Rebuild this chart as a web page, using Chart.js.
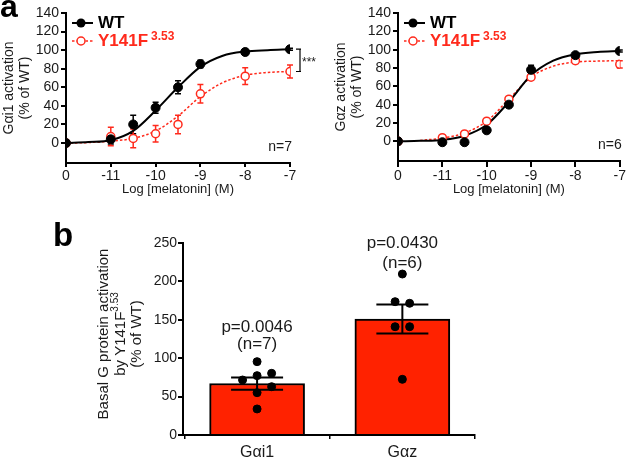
<!DOCTYPE html>
<html>
<head>
  <title>Y141F basal and melatonin-induced G protein activation</title>
  <script src="https://cdn.jsdelivr.net/npm/chart.js"></script>
  <style>
    body { margin: 0; background: #fff; }
    #wrap { position: relative; width: 627px; height: 458px; }
    .panel { position: absolute; }
  </style>
</head>
<body>
<div id="wrap">
  <div class="panel" style="left:0;top:0"><canvas id="gi1Chart" width="320" height="200"></canvas></div>
  <div class="panel" style="left:320px;top:0"><canvas id="gzChart" width="307" height="200"></canvas></div>
  <div class="panel" style="left:0;top:210px"><canvas id="basalChart" width="627" height="248"></canvas></div>
</div>

<script>
  // ---- data ----
  // -12 on the x axis stands for the "0" (no melatonin) point
  const doseX = [-12, -11, -10.5, -10, -9.5, -9, -8, -7];
  const xTickValues = [-12, -11, -10, -9, -8, -7];
  const xTickLabels = ['0', '-11', '-10', '-9', '-8', '-7'];
  const yTicksDose = [0, 20, 40, 60, 80, 100, 120, 140];

  const gi1WT = [0, 4, 20, 38, 60, 85, 98, 101];
  const gi1WTErr = [0, 5, 10, 6, 7, 4, 3, 1];
  const gi1Mut = [0, 7, 5, 10, 20, 53, 72, 77];
  const gi1MutErr = [0, 10, 10, 9, 10, 10, 9, 7];

  const gzWT = [0, -1, -1, 12, 40, 78, 94, 98.5];
  const gzWTErr = [0, 1, 1, 2, 3, 5, 2, 1];
  const gzMut = [0, 4, 8, 22, 46, 70, 88, 84];
  const gzMutErr = [0, 1, 1, 2, 2, 2, 3, 4];

  // fitted curves, read at these x positions
  const curveX = [-12, -11.5, -11, -10.5, -10, -9.5, -9, -8.5, -8, -7.5, -7];
  const gi1WTFit = [0, 1, 3, 13, 35, 60, 82, 94, 98.5, 100, 101];
  const gi1MutFit = [0, 0.5, 2, 5, 13, 29, 50, 65, 73, 76, 77];
  const gzWTFit = [0, 0.5, 1.5, 6, 18, 43, 72, 88, 95, 97.5, 98.5];
  const gzMutFit = [null, 1, 3.5, 9, 22, 46, 70, 82, 86.5, 87.5, 88];

  const seriesNames = ['WT', 'Y141F'];
  const mutSup = '3.53';

  // panel b
  const groups = ['Gαi1', 'Gαz'];
  const basalMean = [67, 151];
  const basalSem = [8, 19];
  const gai1Points = [95.5, 77.3, 71.6, 80.3, 62.9, 55.1, 33.9];
  const gai1Jitter = [0, 0, -0.1, 0.1, 0.1, 0, 0];
  const gazPoints = [209.6, 173.6, 171.5, 141, 141, 72.5];
  const gazJitter = [0, -0.05, 0.05, -0.05, 0.05, 0];
  const pValues = ['p=0.0046', 'p=0.0430'];
  const nLabels = ['(n=7)', '(n=6)'];
  const yTicksBasal = [0, 50, 100, 150, 200, 250];

  const RED = '#ff2a1c';
  const BAR = '#ff2200';
  const FONT = "'Liberation Sans', Arial, sans-serif";
  const TXT = '#1a1a1a';

  Chart.defaults.font.family = FONT;
  Chart.defaults.color = TXT;
  Chart.defaults.animation = false;
  Chart.defaults.events = [];

  // error bars drawn under the markers
  const errorBars = {
    id: 'errorBars',
    beforeDatasetsDraw(chart) {
      const { ctx, scales: { x, y } } = chart;
      chart.data.datasets.forEach(ds => {
        if (!ds.errors) return;
        ctx.save();
        ctx.strokeStyle = ds.errColor;
        ctx.lineWidth = 1.5;
        ds.data.forEach((p, i) => {
          const e = ds.errors[i];
          if (!e) return;
          const px = x.getPixelForValue(p.x);
          const top = y.getPixelForValue(p.y + e);
          const bot = y.getPixelForValue(p.y - e);
          ctx.beginPath();
          ctx.moveTo(px, top); ctx.lineTo(px, bot);
          ctx.moveTo(px - 3, top); ctx.lineTo(px + 3, top);
          ctx.moveTo(px - 3, bot); ctx.lineTo(px + 3, bot);
          ctx.stroke();
        });
        ctx.restore();
      });
    }
  };

  // legend, n label, bracket, panel letter
  const doseExtras = {
    id: 'doseExtras',
    afterDraw(chart, args, o) {
      const { ctx, chartArea: a, scales: { x, y } } = chart;
      const x0 = a.left + 6, x1 = a.left + 27, mx = a.left + 15, tx = a.left + 32;
      const y1 = a.top + 10, y2 = a.top + 28;
      ctx.save();
      ctx.strokeStyle = '#000'; ctx.lineWidth = 2;
      ctx.beginPath(); ctx.moveTo(x0, y1); ctx.lineTo(x1, y1); ctx.stroke();
      ctx.fillStyle = '#000';
      ctx.beginPath(); ctx.arc(mx, y1, 4.5, 0, 2 * Math.PI); ctx.fill();

      ctx.strokeStyle = RED; ctx.lineWidth = 1.5; ctx.setLineDash([2.5, 2]);
      ctx.beginPath(); ctx.moveTo(x0, y2); ctx.lineTo(x1, y2); ctx.stroke();
      ctx.setLineDash([]);
      ctx.fillStyle = '#fff';
      ctx.beginPath(); ctx.arc(mx, y2, 4, 0, 2 * Math.PI); ctx.fill(); ctx.stroke();

      ctx.textAlign = 'left'; ctx.textBaseline = 'middle';
      ctx.font = 'bold 17px ' + FONT;
      ctx.fillStyle = '#000'; ctx.fillText(seriesNames[0], tx, y1);
      ctx.fillStyle = RED; ctx.fillText(seriesNames[1], tx, y2);
      const w = ctx.measureText(seriesNames[1]).width;
      ctx.font = 'bold 12px ' + FONT;
      ctx.fillText(mutSup, tx + w + 3, y2 - 4);

      ctx.fillStyle = TXT;
      ctx.font = '14px ' + FONT;
      ctx.textAlign = 'right';
      ctx.fillText(o.nText, a.right + 2, a.bottom - 16);

      if (o.bracket) {
        const bx = a.right + 10;
        const top = y.getPixelForValue(o.bracket[0]);
        const bot = y.getPixelForValue(o.bracket[1]);
        ctx.strokeStyle = '#000'; ctx.lineWidth = 1.2;
        ctx.beginPath();
        ctx.moveTo(bx - 4, top); ctx.lineTo(bx + 1, top);
        ctx.moveTo(bx, top); ctx.lineTo(bx, bot);
        ctx.moveTo(bx - 4, bot); ctx.lineTo(bx + 1, bot);
        ctx.stroke();
        ctx.font = '12px ' + FONT; ctx.textAlign = 'left';
        ctx.fillText('***', bx + 2, (top + bot) / 2 + 2);
      }
      if (o.letter) {
        ctx.fillStyle = '#000';
        ctx.font = 'bold 32px ' + FONT; ctx.textAlign = 'left'; ctx.textBaseline = 'alphabetic';
        ctx.fillText(o.letter, 0, 17);
      }
      ctx.restore();
    }
  };

  function doseChart(id, cfg) {
    const pts = ys => doseX.map((x, i) => ({ x, y: ys[i] }));
    const fit = ys => curveX.map((x, i) => ({ x, y: ys[i] }));
    return new Chart(document.getElementById(id), {
      type: 'line',
      data: {
        datasets: [
          { data: pts(cfg.wt), showLine: false, pointRadius: 4.5, pointBackgroundColor: '#000',
            pointBorderColor: '#000', pointBorderWidth: 1, order: 0, errors: cfg.wtErr, errColor: '#000' },
          { data: pts(cfg.mut), showLine: false, pointRadius: 4, pointBackgroundColor: '#fff',
            pointBorderColor: RED, pointBorderWidth: 1.5, order: 1, errors: cfg.mutErr, errColor: RED },
          { data: fit(cfg.wtFit), borderColor: '#000', borderWidth: 2, pointRadius: 0,
            cubicInterpolationMode: 'monotone', order: 2 },
          { data: fit(cfg.mutFit), borderColor: RED, borderWidth: 1.5, borderDash: [2.5, 2], pointRadius: 0,
            cubicInterpolationMode: 'monotone', order: 3 }
        ]
      },
      options: {
        responsive: false,
        layout: { padding: cfg.padding },
        plugins: {
          legend: { display: false },
          tooltip: { enabled: false },
          doseExtras: { nText: cfg.nText, bracket: cfg.bracket, letter: cfg.letter }
        },
        scales: {
          x: {
            type: 'linear', min: -12, max: -7,
            afterBuildTicks: s => { s.ticks = xTickValues.map(v => ({ value: v })); },
            afterFit: s => { s.height = cfg.xHeight; },
            ticks: { callback: (v, i) => xTickLabels[i], font: { size: 14 }, padding: 1,
                     maxRotation: 0, autoSkip: false },
            grid: { display: true, drawOnChartArea: false, drawTicks: true, tickLength: cfg.xTick,
                    color: '#000', lineWidth: 2 },
            border: { display: true, color: '#000', width: 2 },
            title: { display: true, text: 'Log [melatonin] (M)', font: { size: 13 },
                     padding: { top: 0, bottom: 3 } }
          },
          y: {
            min: -21.5, max: 140,
            afterBuildTicks: s => { s.ticks = yTicksDose.map(v => ({ value: v })); },
            afterFit: s => { s.width = cfg.yWidth; },
            ticks: { font: { size: 14 }, padding: 2 },
            grid: { display: true, drawOnChartArea: false, drawTicks: true, tickLength: 5,
                    color: '#000', lineWidth: 2 },
            border: { display: true, color: '#000', width: 2 },
            title: { display: true, text: cfg.yTitle, font: { size: 14, lineHeight: 1.15 },
                     padding: { top: cfg.yTitlePad, bottom: 0 } }
          }
        }
      },
      plugins: [errorBars, doseExtras]
    });
  }

  doseChart('gi1Chart', {
    wt: gi1WT, wtErr: gi1WTErr, mut: gi1Mut, mutErr: gi1MutErr,
    wtFit: gi1WTFit, mutFit: gi1MutFit,
    yTitle: ['Gαi1 activation', '(% of WT)'], nText: 'n=7',
    bracket: [gi1WT[7], gi1Mut[7]], letter: 'a',
    padding: { left: 0, right: 30, top: 13, bottom: 0 },
    yWidth: 66, xHeight: 37, xTick: 4, yTitlePad: 1
  });

  doseChart('gzChart', {
    wt: gzWT, wtErr: gzWTErr, mut: gzMut, mutErr: gzMutErr,
    wtFit: gzWTFit, mutFit: gzMutFit,
    yTitle: ['Gαz activation', '(% of WT)'], nText: 'n=6',
    padding: { left: 0, right: 5, top: 13, bottom: 0 },
    yWidth: 78, xHeight: 39, xTick: 6, yTitlePad: 13
  });

  // ---- panel b ----
  const basalExtras = {
    id: 'basalExtras',
    afterDatasetDraw(chart, args) {
      if (args.index !== 0) return;
      const { ctx, scales: { x, y } } = chart;
      ctx.save();
      ctx.strokeStyle = '#000'; ctx.lineWidth = 2;
      basalMean.forEach((m, i) => {
        const px = x.getPixelForValue(i + 1);
        const top = y.getPixelForValue(m + basalSem[i]);
        const bot = y.getPixelForValue(m - basalSem[i]);
        ctx.beginPath();
        ctx.moveTo(px, top); ctx.lineTo(px, bot);
        ctx.moveTo(px - 26, top); ctx.lineTo(px + 26, top);
        ctx.moveTo(px - 26, bot); ctx.lineTo(px + 26, bot);
        ctx.stroke();
      });
      ctx.restore();
    },
    afterDraw(chart, args, o) {
      const { ctx, chartArea: a, scales: { x, y } } = chart;
      ctx.save();
      ctx.fillStyle = TXT;
      ctx.font = '17px ' + FONT;
      ctx.textAlign = 'center'; ctx.textBaseline = 'middle';
      groups.forEach((g, i) => {
        const px = x.getPixelForValue(i + 1);
        ctx.fillText(pValues[i], px, y.getPixelForValue(o.textAt[i][0]));
        ctx.fillText(nLabels[i], px, y.getPixelForValue(o.textAt[i][1]));
      });

      // rotated y title with superscript
      const cy = (a.top + a.bottom) / 2 - 5;
      const lines = [['Basal G protein activation', ''], ['by Y141F', mutSup], ['(% of WT)', '']];
      const xs = [104, 121, 137];
      lines.forEach(([main, sup], i) => {
        ctx.save();
        ctx.translate(xs[i], cy);
        ctx.rotate(-Math.PI / 2);
        ctx.font = '15px ' + FONT;
        const w1 = ctx.measureText(main).width;
        ctx.font = '10px ' + FONT;
        const w2 = sup ? ctx.measureText(sup).width : 0;
        const start = -(w1 + w2) / 2;
        ctx.textAlign = 'left';
        ctx.font = '15px ' + FONT;
        ctx.fillText(main, start, 0);
        if (sup) { ctx.font = '10px ' + FONT; ctx.fillText(sup, start + w1, -6); }
        ctx.restore();
      });

      ctx.fillStyle = '#000';
      ctx.font = 'bold 33px ' + FONT; ctx.textAlign = 'left'; ctx.textBaseline = 'alphabetic';
      ctx.fillText('b', 53, 36);
      ctx.restore();
    }
  };

  const scatterPts = [
    ...gai1Points.map((v, i) => ({ x: 1 + gai1Jitter[i], y: v })),
    ...gazPoints.map((v, i) => ({ x: 2 + gazJitter[i], y: v }))
  ];

  new Chart(document.getElementById('basalChart'), {
    type: 'bar',
    data: {
      datasets: [
        { type: 'bar', data: basalMean.map((m, i) => ({ x: i + 1, y: m })), backgroundColor: BAR,
          borderColor: '#000', borderWidth: 2, barThickness: 95, order: 2 },
        { type: 'scatter', data: scatterPts, pointRadius: 4, backgroundColor: '#000',
          borderColor: '#000', order: 1 }
      ]
    },
    options: {
      responsive: false,
      layout: { padding: { left: 0, right: 152, top: 33, bottom: 0 } },
      plugins: {
        legend: { display: false },
        tooltip: { enabled: false },
        basalExtras: { textAt: [[140, 118], [250, 224]] }
      },
      scales: {
        x: {
          type: 'linear', min: 0.49, max: 2.5, offset: false,
          afterBuildTicks: s => { s.ticks = groups.map((g, i) => ({ value: i + 1 })); },
          afterFit: s => { s.height = 23; },
          ticks: { callback: (v, i) => groups[i], font: { size: 16 }, padding: 4, maxRotation: 0, autoSkip: false },
          grid: { display: true, drawOnChartArea: false, drawTicks: true, tickLength: 4,
                  color: '#000', lineWidth: 1.5 },
          border: { display: true, color: '#000', width: 2 }
        },
        y: {
          min: 0, max: 250,
          afterBuildTicks: s => { s.ticks = yTicksBasal.map(v => ({ value: v })); },
          afterFit: s => { s.width = 183; },
          ticks: { font: { size: 14 }, padding: 1 },
          grid: { display: true, drawOnChartArea: false, drawTicks: true, tickLength: 5,
                  color: '#000', lineWidth: 2 },
          border: { display: true, color: '#000', width: 2 }
        }
      }
    },
    plugins: [basalExtras]
  });
</script>
</body>
</html>
